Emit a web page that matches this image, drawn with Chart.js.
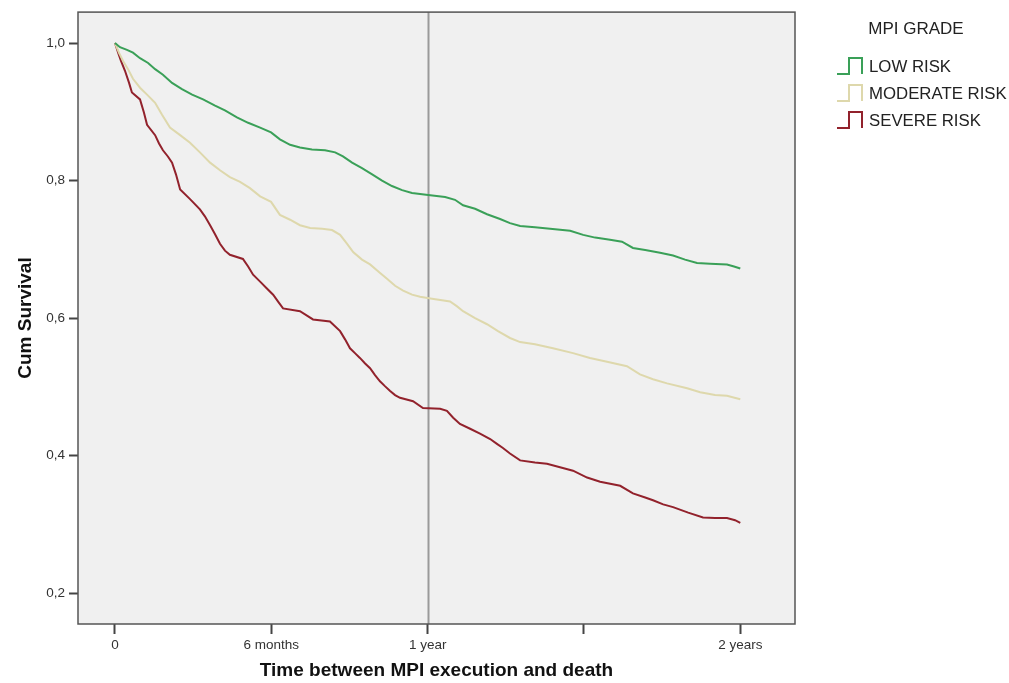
<!DOCTYPE html>
<html>
<head>
<meta charset="utf-8">
<script src="https://cdn.jsdelivr.net/npm/chart.js@4.4.1/dist/chart.umd.min.js"></script>
<style>
  html, body { margin: 0; padding: 0; background: #fff; }
  #wrap { width: 1009px; height: 683px; }
</style>
</head>
<body>
<div id="wrap"><canvas id="km-chart" width="1009" height="683"></canvas></div>
<script>
// time in months since MPI execution
const seriesNames = ['LOW RISK', 'MODERATE RISK', 'SEVERE RISK'];

const lowTimes = [0, 0.19, 0.46, 0.69, 0.96, 1.27, 1.54, 1.84, 2.19, 2.57, 2.96, 3.38, 3.84, 4.22, 4.68, 5.11, 5.57, 5.99,
  6.33, 6.72, 7.10, 7.56, 8.06, 8.45, 8.75, 9.10, 9.48, 9.87, 10.25, 10.63, 11.02, 11.40, 12.02, 12.67, 13.05, 13.36,
  13.82, 14.28, 14.78, 15.16, 15.55, 16.12, 16.70, 17.47, 17.97, 18.43, 19.00, 19.46, 19.88, 20.35, 20.92, 21.42,
  21.88, 22.34, 22.84, 23.49, 23.76, 24.0];
const lowSurv = [1.000, 0.994, 0.990, 0.986, 0.978, 0.971, 0.962, 0.954, 0.942, 0.933, 0.925, 0.918, 0.909, 0.902, 0.892,
  0.884, 0.877, 0.870, 0.860, 0.852, 0.848, 0.845, 0.844, 0.841, 0.835, 0.826, 0.818, 0.809, 0.800, 0.792, 0.786, 0.782,
  0.779, 0.776, 0.772, 0.764, 0.759, 0.751, 0.744, 0.738, 0.734, 0.732, 0.730, 0.727, 0.721, 0.717, 0.714, 0.711, 0.702,
  0.699, 0.695, 0.691, 0.685, 0.680, 0.679, 0.678, 0.675, 0.672];

const modTimes = [0, 0.15, 0.31, 0.50, 0.69, 0.96, 1.23, 1.54, 1.80, 2.11, 2.50, 2.88, 3.26, 3.65, 4.03, 4.41, 4.80, 5.18,
  5.57, 5.99, 6.33, 6.72, 7.10, 7.49, 7.95, 8.33, 8.64, 8.91, 9.14, 9.48, 9.79, 10.13, 10.44, 10.75, 11.06, 11.40, 11.71,
  12.17, 12.86, 13.13, 13.36, 13.82, 14.28, 14.70, 15.16, 15.55, 16.12, 16.81, 17.58, 18.23, 18.93, 19.65, 20.15, 20.65,
  21.19, 21.96, 22.46, 23.03, 23.49, 24.0];
const modSurv = [1.000, 0.986, 0.974, 0.962, 0.948, 0.935, 0.925, 0.913, 0.896, 0.877, 0.866, 0.855, 0.841, 0.826, 0.815,
  0.805, 0.798, 0.789, 0.777, 0.769, 0.750, 0.743, 0.735, 0.731, 0.730, 0.728, 0.721, 0.708, 0.696, 0.685, 0.678, 0.667,
  0.657, 0.647, 0.640, 0.634, 0.631, 0.628, 0.624, 0.617, 0.610, 0.600, 0.591, 0.581, 0.571, 0.565, 0.562, 0.556, 0.549,
  0.542, 0.536, 0.530, 0.518, 0.511, 0.505, 0.498, 0.492, 0.488, 0.487, 0.482];

const sevTimes = [0, 0.12, 0.23, 0.38, 0.54, 0.65, 0.96, 1.11, 1.23, 1.54, 1.69, 1.84, 2.03, 2.19, 2.34, 2.50, 2.88, 3.26,
  3.45, 3.65, 3.84, 4.03, 4.22, 4.41, 4.91, 5.11, 5.30, 5.57, 5.83, 6.07, 6.26, 6.45, 7.10, 7.60, 8.25, 8.64, 8.83, 9.02,
  9.21, 9.40, 9.60, 9.79, 9.98, 10.17, 10.36, 10.56, 10.75, 10.94, 11.44, 11.82, 12.48, 12.74, 12.98, 13.24, 13.63, 14.01,
  14.40, 14.66, 14.89, 15.16, 15.55, 16.12, 16.58, 17.08, 17.58, 18.12, 18.62, 19.39, 19.88, 20.35, 20.65, 21.04, 21.42,
  22.00, 22.57, 23.03, 23.49, 23.80, 24.0];
const sevSurv = [1.000, 0.986, 0.974, 0.960, 0.942, 0.928, 0.918, 0.899, 0.881, 0.866, 0.854, 0.844, 0.835, 0.826, 0.809,
  0.787, 0.773, 0.758, 0.748, 0.735, 0.722, 0.708, 0.698, 0.692, 0.686, 0.675, 0.663, 0.653, 0.643, 0.634, 0.624, 0.614,
  0.610, 0.598, 0.595, 0.581, 0.569, 0.556, 0.549, 0.542, 0.534, 0.527, 0.517, 0.508, 0.501, 0.494, 0.488, 0.484, 0.479,
  0.469, 0.468, 0.465, 0.455, 0.446, 0.439, 0.432, 0.424, 0.417, 0.411, 0.403, 0.393, 0.390, 0.388, 0.383, 0.378, 0.368,
  0.362, 0.356, 0.345, 0.339, 0.335, 0.329, 0.325, 0.317, 0.310, 0.309, 0.309, 0.306, 0.302];

const xTickValues = [0, 6, 12, 18, 24];
const xTickLabels = ['0', '6 months', '1 year', '', '2 years'];
const yTickValues = [0.2, 0.4, 0.6, 0.8, 1.0];
const refLineMonth = 12;

const colors = ['rgb(58,160,88)', 'rgb(222,216,172)', 'rgb(146,34,44)'];

function toPoints(times, surv) {
    return times.map((t, i) => ({ x: t, y: surv[i] }));
}

// plot frame, grey background and the 1 year reference line
const framePlugin = {
    id: 'frame',
    beforeDatasetsDraw(chart) {
        const { ctx, chartArea: a, scales } = chart;
        ctx.save();
        ctx.fillStyle = '#f0f0f0';
        ctx.fillRect(a.left, a.top, a.right - a.left, a.bottom - a.top);
        const x = Math.round(scales.x.getPixelForValue(refLineMonth)) + 0.5;
        ctx.strokeStyle = '#9a9a9a';
        ctx.lineWidth = 2;
        ctx.beginPath();
        ctx.moveTo(x, a.top);
        ctx.lineTo(x, a.bottom);
        ctx.stroke();
        ctx.restore();
    },
    afterDraw(chart) {
        const { ctx, chartArea: a } = chart;
        ctx.save();
        ctx.strokeStyle = '#555';
        ctx.lineWidth = 1.5;
        ctx.strokeRect(a.left, a.top, a.right - a.left, a.bottom - a.top);
        ctx.restore();
    }
};

// SPSS style legend with little step icons
const stepLegend = {
    id: 'stepLegend',
    afterDraw(chart) {
        const ctx = chart.ctx;
        ctx.save();
        ctx.fillStyle = '#222';
        ctx.textBaseline = 'middle';
        ctx.textAlign = 'center';
        ctx.font = '17px "Liberation Sans", Arial, sans-serif';
        ctx.fillText('MPI GRADE', 916, 29);
        ctx.textAlign = 'left';
        ctx.font = '16.8px "Liberation Sans", Arial, sans-serif';
        const rowsY = [66, 93, 120];
        chart.data.datasets.forEach((ds, i) => {
            const y = rowsY[i];
            ctx.strokeStyle = ds.borderColor;
            ctx.lineWidth = 2;
            ctx.beginPath();
            ctx.moveTo(837, y + 8);
            ctx.lineTo(849, y + 8);
            ctx.lineTo(849, y - 8);
            ctx.lineTo(862, y - 8);
            ctx.lineTo(862, y + 8);
            ctx.stroke();
            ctx.fillText(ds.label, 869, y + 1);
        });
        ctx.restore();
    }
};

const ctx = document.getElementById('km-chart').getContext('2d');

new Chart(ctx, {
    type: 'line',
    data: {
        datasets: [
            { label: seriesNames[0], data: toPoints(lowTimes, lowSurv), borderColor: colors[0] },
            { label: seriesNames[1], data: toPoints(modTimes, modSurv), borderColor: colors[1] },
            { label: seriesNames[2], data: toPoints(sevTimes, sevSurv), borderColor: colors[2] }
        ].map(ds => Object.assign(ds, {
            tension: 0,
            borderWidth: 2,
            pointRadius: 0,
            fill: false
        }))
    },
    options: {
        responsive: false,
        animation: false,
        layout: { padding: { top: 9, right: 214, left: 0, bottom: 0 } },
        plugins: {
            legend: { display: false },
            tooltip: { enabled: false }
        },
        scales: {
            x: {
                type: 'linear',
                min: -1.42,
                max: 26.1,
                afterFit: s => { s.height = 59; },
                afterBuildTicks: axis => { axis.ticks = xTickValues.map(v => ({ value: v })); },
                ticks: {
                    callback: (value, index) => xTickLabels[index],
                    color: '#333',
                    padding: 3,
                    maxRotation: 0,
                    autoSkip: false,
                    font: { family: '"Liberation Sans", Arial, sans-serif', size: 13.5 }
                },
                grid: { drawOnChartArea: false, tickLength: 10, tickColor: '#444', tickWidth: 2 },
                border: { display: false },
                title: {
                    display: true,
                    text: 'Time between MPI execution and death',
                    color: '#111',
                    padding: { top: 0, bottom: 1 },
                    font: { family: '"Liberation Sans", Arial, sans-serif', size: 19, weight: 'bold' }
                }
            },
            y: {
                min: 0.155,
                max: 1.045,
                afterFit: s => { s.width = 78; },
                afterBuildTicks: axis => { axis.ticks = yTickValues.map(v => ({ value: v })); },
                ticks: {
                    callback: value => value.toFixed(1).replace('.', ','),
                    color: '#333',
                    padding: 4,
                    font: { family: '"Liberation Sans", Arial, sans-serif', size: 13.5 }
                },
                grid: { drawOnChartArea: false, tickLength: 9, tickColor: '#444', tickWidth: 2 },
                border: { display: false },
                title: {
                    display: true,
                    text: 'Cum Survival',
                    color: '#111',
                    padding: { top: 14, bottom: 0 },
                    font: { family: '"Liberation Sans", Arial, sans-serif', size: 19, weight: 'bold' }
                }
            }
        }
    },
    plugins: [framePlugin, stepLegend]
});
</script>
</body>
</html>
